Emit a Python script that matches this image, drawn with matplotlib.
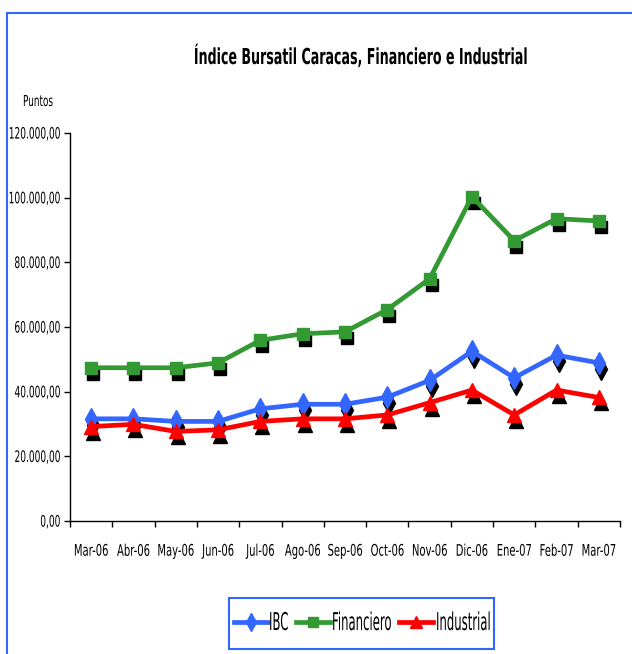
import matplotlib
matplotlib.use("Agg")
import matplotlib.pyplot as plt
import matplotlib.transforms as mtransforms
from matplotlib.patches import Rectangle
from matplotlib.lines import Line2D
from matplotlib.patheffects import AbstractPathEffect
from matplotlib.ticker import FuncFormatter, FixedLocator

plt.rcParams['font.family'] = ['DejaVu Sans']

# data
months = ['Mar-06', 'Abr-06', 'May-06', 'Jun-06', 'Jul-06', 'Ago-06', 'Sep-06',
          'Oct-06', 'Nov-06', 'Dic-06', 'Ene-07', 'Feb-07', 'Mar-07']
ibc = [31600, 31600, 30800, 30800, 34700, 36100, 36100,
       38300, 43500, 52500, 44300, 51300, 48900]
financiero = [47400, 47400, 47400, 48900, 55900, 57900, 58500,
              65400, 74900, 100300, 86700, 93500, 92800]
industrial = [29200, 29900, 27700, 28200, 30800, 31600, 31600,
              32800, 36600, 40500, 32800, 40500, 38200]
names = ['IBC', 'Financiero', 'Industrial']

colors = ['#3366ff', '#339933', '#ff0000']
markers = [('d', 11), ('s', 8.5), ('^', 10)]


class Tall(AbstractPathEffect):
    # stretch text vertically: the original uses a tall narrow font
    def __init__(self, sy, pivot='baseline'):
        super().__init__()
        self.sy = sy
        self.pivot = pivot

    def draw_path(self, renderer, gc, tpath, affine, rgbFace=None):
        if self.pivot == 'baseline':
            py = affine.transform((0, 0))[1]
        else:
            ext = affine.transform_path(tpath).get_extents()
            py = ext.y1 if self.pivot == 'top' else (ext.y0 + ext.y1) / 2
        aff = affine + mtransforms.Affine2D().translate(0, -py).scale(1, self.sy).translate(0, py)
        renderer.draw_path(gc, tpath, aff, rgbFace)


fig = plt.figure(figsize=(6.32, 6.54), dpi=100)
W, H = 632, 654

# blue frame of the chart area (left and top edges visible)
fig.patches.append(Rectangle((7 / W, -0.05), 1.0, 1 - 13 / H + 0.05,
                             transform=fig.transFigure, fill=False,
                             edgecolor='#3366ff', linewidth=1.5))

ax = fig.add_axes([70 / W, 1 - 521 / H, (620 - 70) / W, (521 - 133) / H])
x = list(range(len(months)))
data = [ibc, financiero, industrial]

shadow = mtransforms.offset_copy(ax.transData, fig=fig, x=2, y=-6, units='dots')
for vals, (mk, ms) in zip(data, markers):
    ax.plot(x, vals, linestyle='none', marker=mk, markersize=ms,
            color='black', transform=shadow, zorder=2)
for vals, c, (mk, ms), name in zip(data, colors, markers, names):
    ax.plot(x, vals, color=c, linewidth=3.4, marker=mk, markersize=ms,
            markeredgecolor=c, label=name, zorder=3)

ax.set_xlim(-0.5, len(months) - 0.5)
ax.set_ylim(0, 120000)
ax.set_yticks(range(0, 120001, 20000))
ax.yaxis.set_major_formatter(FuncFormatter(
    lambda v, p: f"{int(v):,}".replace(',', '.') + ',00'))

ax.set_xticks(x)
ax.set_xticklabels(months)
ax.tick_params(axis='x', which='major', length=0, pad=16, labelsize=7.2)
ax.xaxis.set_minor_locator(FixedLocator([i - 0.5 for i in range(len(months) + 1)]))
ax.tick_params(axis='x', which='minor', length=4, direction='out', width=1)
ax.tick_params(axis='y', length=4, width=1, labelsize=6.5, pad=3)
for lbl in ax.get_xticklabels():
    lbl.set_path_effects([Tall(1.6, 'top')])
for lbl in ax.get_yticklabels():
    lbl.set_path_effects([Tall(1.75, 'center')])

for s in ['top', 'right']:
    ax.spines[s].set_visible(False)
for s in ['left', 'bottom']:
    ax.spines[s].set_linewidth(1)

fig.text(360 / W, 1 - 64 / H, 'Índice Bursatil Caracas, Financiero e Industrial',
         ha='center', va='baseline', fontsize=9.1, fontweight='bold',
         path_effects=[Tall(1.74)])
fig.text(23 / W, 1 - 106 / H, 'Puntos', ha='left', va='baseline', fontsize=6.4,
         path_effects=[Tall(1.7)])

# legend box drawn by hand to sit where the original one is
fig.patches.append(Rectangle((229 / W, 1 - 649 / H), (494 - 229) / W, (649 - 598) / H,
                             transform=fig.transFigure, fill=False,
                             edgecolor='#3366ff', linewidth=1.5))
leg_pos = [(234, 268, 269), (296, 330, 332), (399, 433, 436)]
leg_ms = [9, 7, 8.5]
for (x0, x1, tx), c, (mk, ms), lms, name in zip(leg_pos, colors, markers, leg_ms, names):
    fig.add_artist(Line2D([x0 / W, x1 / W], [1 - 622 / H] * 2, color=c, linewidth=3.4,
                          transform=fig.transFigure))
    fig.add_artist(Line2D([(x0 + x1) / 2 / W], [1 - 622 / H], marker=mk, markersize=lms,
                          color=c, transform=fig.transFigure))
    fig.text(tx / W, 1 - 630 / H, name, ha='left', va='baseline', fontsize=8.4,
             path_effects=[Tall(2.1)])

fig.savefig('out.png', dpi=100)
